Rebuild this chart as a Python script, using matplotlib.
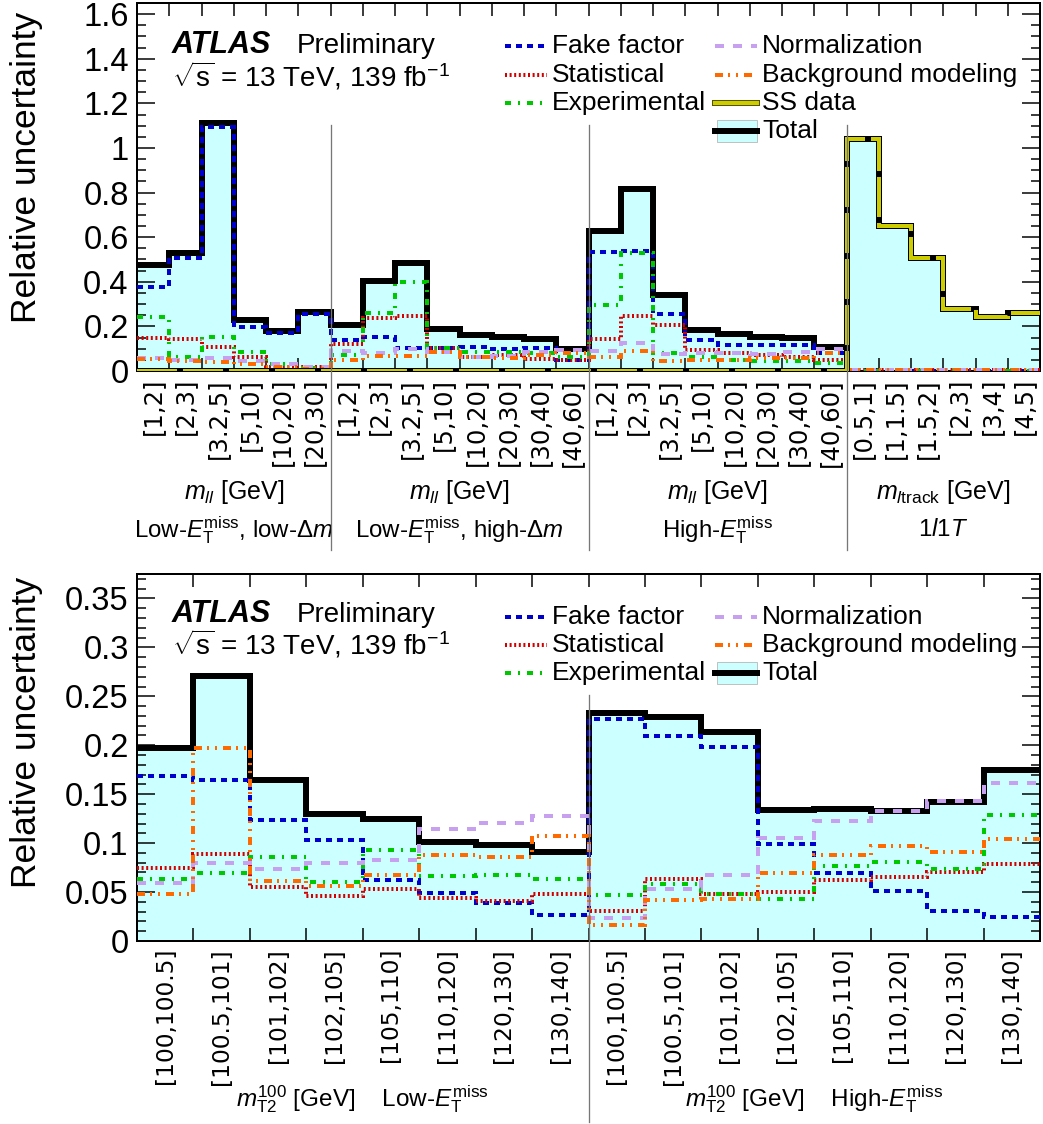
import numpy as np
import matplotlib
matplotlib.use("Agg")
import matplotlib.pyplot as plt
from matplotlib.lines import Line2D
from matplotlib.patches import Rectangle
from matplotlib.ticker import MultipleLocator, FixedLocator, FuncFormatter
import matplotlib.transforms as mtransforms
import matplotlib.patheffects as pe

plt.rcParams['font.family'] = ['Liberation Sans', 'DejaVu Sans']
plt.rcParams['mathtext.fontset'] = 'custom'
plt.rcParams['mathtext.rm'] = 'Liberation Sans'
plt.rcParams['mathtext.it'] = 'Liberation Sans:italic'
plt.rcParams['mathtext.bf'] = 'Liberation Sans:bold'

# ---------------- data: upper panel (2l + 1l1T signal regions) ----------------
top_labels = ["[1,2]", "[2,3]", "[3.2,5]", "[5,10]", "[10,20]", "[20,30]",
              "[1,2]", "[2,3]", "[3.2,5]", "[5,10]", "[10,20]", "[20,30]", "[30,40]", "[40,60]",
              "[1,2]", "[2,3]", "[3.2,5]", "[5,10]", "[10,20]", "[20,30]", "[30,40]", "[40,60]",
              "[0.5,1]", "[1,1.5]", "[1.5,2]", "[2,3]", "[3,4]", "[4,5]"]
top_region_sizes = [6, 8, 8, 6]
top_var_labels = [r"$m_{ll}$ [GeV]", r"$m_{ll}$ [GeV]", r"$m_{ll}$ [GeV]", r"$m_{l\mathrm{track}}$ [GeV]"]
top_region_names = [r"Low-$E_\mathrm{T}^\mathrm{miss}$, low-$\Delta m$",
                    r"Low-$E_\mathrm{T}^\mathrm{miss}$, high-$\Delta m$",
                    r"High-$E_\mathrm{T}^\mathrm{miss}$",
                    r"1$l$1$T$"]

top_fake = [0.375, 0.505, 1.095, 0.199, 0.172, 0.255,
            0.139, 0.151, 0.102, 0.102, 0.109, 0.099, 0.105, 0.049,
            0.535, 0.539, 0.255, 0.139, 0.115, 0.115, 0.116, 0.082,
            0.003, 0.002, 0.002, 0.002, 0.002, 0.002]
top_stat = [0.149, 0.142, 0.109, 0.064, 0.020, 0.020,
            0.119, 0.236, 0.248, 0.103, 0.064, 0.070, 0.052, 0.049,
            0.142, 0.248, 0.206, 0.094, 0.082, 0.072, 0.064, 0.049,
            0.004, 0.003, 0.003, 0.003, 0.003, 0.003]
top_exp = [0.240, 0.065, 0.151, 0.087, 0.030, 0.015,
           0.072, 0.262, 0.397, 0.102, 0.084, 0.083, 0.080, 0.064,
           0.297, 0.530, 0.079, 0.064, 0.049, 0.047, 0.046, 0.037,
           0.002, 0.002, 0.002, 0.002, 0.002, 0.002]
top_norm = [0.057, 0.050, 0.060, 0.047, 0.030, 0.020,
            0.090, 0.080, 0.100, 0.087, 0.064, 0.067, 0.083, 0.094,
            0.091, 0.127, 0.076, 0.079, 0.079, 0.077, 0.085, 0.100,
            0.004, 0.004, 0.004, 0.004, 0.004, 0.004]
top_bkg = [0.053, 0.045, 0.040, 0.030, 0.020, 0.010,
           0.051, 0.069, 0.067, 0.085, 0.061, 0.060, 0.070, 0.082,
           0.064, 0.091, 0.046, 0.051, 0.049, 0.060, 0.060, 0.079,
           0.005, 0.005, 0.005, 0.005, 0.005, 0.005]
top_ss = [0.0, 0.0, 0.0, 0.0, 0.0, 0.0,
          0.0, 0.0, 0.0, 0.0, 0.0, 0.0, 0.0, 0.0,
          0.0, 0.0, 0.0, 0.0, 0.0, 0.0, 0.0, 0.0,
          1.040, 0.650, 0.505, 0.277, 0.243, 0.259]
top_total = [0.475, 0.527, 1.113, 0.229, 0.181, 0.264,
             0.206, 0.405, 0.483, 0.187, 0.160, 0.154, 0.145, 0.099,
             0.628, 0.816, 0.341, 0.184, 0.166, 0.154, 0.147, 0.109,
             1.040, 0.650, 0.505, 0.277, 0.243, 0.259]

# ---------------- data: lower panel (mT2 regions) ----------------
bot_labels = ["[100,100.5]", "[100.5,101]", "[101,102]", "[102,105]",
              "[105,110]", "[110,120]", "[120,130]", "[130,140]",
              "[100,100.5]", "[100.5,101]", "[101,102]", "[102,105]",
              "[105,110]", "[110,120]", "[120,130]", "[130,140]"]
bot_region_sizes = [8, 8]
bot_region_names = [r"$m_\mathrm{T2}^{100}$ [GeV]    Low-$E_\mathrm{T}^\mathrm{miss}$",
                    r"$m_\mathrm{T2}^{100}$ [GeV]    High-$E_\mathrm{T}^\mathrm{miss}$"]

bot_total = [0.197, 0.271, 0.164, 0.130, 0.125, 0.101, 0.098, 0.091,
             0.233, 0.229, 0.214, 0.134, 0.135, 0.133, 0.142, 0.175]
bot_fake = [0.169, 0.165, 0.124, 0.103, 0.062, 0.049, 0.039, 0.027,
            0.227, 0.209, 0.198, 0.099, 0.069, 0.051, 0.031, 0.025]
bot_stat = [0.075, 0.089, 0.055, 0.046, 0.053, 0.044, 0.041, 0.048,
            0.031, 0.063, 0.048, 0.050, 0.062, 0.065, 0.071, 0.079]
bot_exp = [0.063, 0.069, 0.086, 0.060, 0.093, 0.066, 0.067, 0.063,
           0.047, 0.058, 0.048, 0.043, 0.077, 0.081, 0.074, 0.129]
bot_norm = [0.059, 0.080, 0.074, 0.080, 0.083, 0.114, 0.121, 0.128,
            0.023, 0.053, 0.067, 0.105, 0.123, 0.133, 0.143, 0.161]
bot_bkg = [0.048, 0.197, 0.061, 0.056, 0.067, 0.088, 0.086, 0.107,
           0.016, 0.042, 0.043, 0.069, 0.088, 0.097, 0.091, 0.104]

# ---------------- style ----------------
W, H, DPI = 1043, 1124, 100
PX = 72.0 / DPI  # points per pixel

C_FAKE = "#0000cc"
C_STAT = "#d40000"
C_EXP = "#00c800"
C_NORM = "#c8a0f0"
C_BKG = "#ff6a00"
C_SS = "#cccc00"
C_FILL = "#ccffff"


def dash(lw_px, pattern_px):
    """Dash pattern given in pixels, converted to linewidth units."""
    return (0, tuple(p / lw_px for p in pattern_px))


STYLES = {
    "fake": dict(color=C_FAKE, lw=4 * PX, ls=dash(4, (6, 5))),
    "stat": dict(color=C_STAT, lw=4 * PX, ls=dash(4, (2, 2.6))),
    "exp": dict(color=C_EXP, lw=4 * PX, ls=dash(4, (6, 7, 2, 7))),
    "norm": dict(color=C_NORM, lw=4 * PX, ls=dash(4, (9, 9))),
    "bkg": dict(color=C_BKG, lw=4 * PX, ls=dash(4, (8, 5, 2, 6, 2, 6))),
}
TOTAL_LW = 6 * PX

fig = plt.figure(figsize=(W / DPI, H / DPI), dpi=DPI)


def fx(px):
    return px / W


def fy(py):
    return 1 - py / H


def make_axes(top_px, bottom_px):
    return fig.add_axes([fx(137), fy(bottom_px), fx(1040) - fx(137), (bottom_px - top_px) / H])


def style_axes(ax, n, ymax, major, minor, labels, label_size):
    edges = np.arange(n + 1)
    ax.set_xlim(0, n)
    ax.set_ylim(0, ymax)
    ax.xaxis.set_major_locator(FixedLocator(edges[:-1] + 0.5))
    ax.xaxis.set_minor_locator(FixedLocator(edges))
    ax.set_xticklabels(labels, rotation=90, fontsize=label_size, family="DejaVu Sans")
    ax.tick_params(axis="x", which="major", length=0, pad=5)
    ax.tick_params(axis="x", which="minor", direction="in", length=13 * PX, width=1.5 * PX,
                   top=True, bottom=True)
    ax.yaxis.set_major_locator(MultipleLocator(major))
    ax.yaxis.set_minor_locator(MultipleLocator(minor))
    ax.yaxis.set_major_formatter(FuncFormatter(lambda v, p: "%g" % round(v, 4)))
    ax.tick_params(axis="y", which="major", direction="in", length=18 * PX, width=1.5 * PX,
                   labelsize=23.5, left=True, right=True, pad=6)
    ax.tick_params(axis="y", which="minor", direction="in", length=9 * PX, width=1.5 * PX,
                   left=True, right=True)
    for s in ax.spines.values():
        s.set_linewidth(2 * PX)
        s.set_zorder(2.5)


def draw_hists(ax, total, comps, ss=None):
    n = len(total)
    edges = np.arange(n + 1)
    ax.stairs(total, edges, fill=True, color=C_FILL, zorder=1)
    ax.stairs(total, edges, baseline=None, color="black", lw=TOTAL_LW, zorder=2)
    for key, vals in comps:
        st = STYLES[key]
        ax.stairs(vals, edges, baseline=None, color=st["color"], lw=st["lw"],
                  linestyle=st["ls"], zorder=3)
    if ss is not None:
        ax.stairs(ss, edges, baseline=None, color="black", lw=6 * PX, zorder=4)
        ax.stairs(ss, edges, baseline=None, color=C_SS, lw=4 * PX,
                  linestyle=dash(4, (40, 6)), zorder=5)


def separators(ax, positions, y0_px, y1_px):
    tr = mtransforms.blended_transform_factory(ax.transData, fig.transFigure)
    for x in positions:
        ax.add_line(Line2D([x, x], [fy(y0_px), fy(y1_px)], transform=tr, color="#777777",
                           lw=1.3 * PX, clip_on=False, zorder=11))


def region_text(ax, sizes, texts, y_px, fontsize):
    tr = mtransforms.blended_transform_factory(ax.transData, fig.transFigure)
    start = 0
    for size, t in zip(sizes, texts):
        ax.text(start + size / 2, fy(y_px), t, transform=tr, ha="center", va="center",
                fontsize=fontsize)
        start += size


def atlas_label(x_px, y1_px, y2_px):
    fig.text(fx(x_px), fy(y1_px), "ATLAS", fontsize=22, weight="bold", style="italic",
             va="baseline", ha="left")
    fig.text(fx(x_px + 125), fy(y1_px), "Preliminary", fontsize=20, va="baseline", ha="left")
    fig.text(fx(x_px), fy(y2_px), r"$\sqrt{\mathrm{s}}$ = 13 TeV, 139 fb$^{-1}$", fontsize=20,
             va="baseline", ha="left")


def legend_entry(x_px, y_px, kind, label):
    xs = [fx(x_px), fx(x_px + 42)]
    ys = [fy(y_px), fy(y_px)]
    if kind == "total":
        fig.add_artist(Rectangle((fx(x_px + 2), fy(y_px + 11)), fx(40), 22 / H,
                                 transform=fig.transFigure, facecolor=C_FILL,
                                 edgecolor="#aaaaaa", lw=0.5))
        fig.add_artist(Line2D(xs, ys, transform=fig.transFigure, color="black", lw=TOTAL_LW))
    elif kind == "ss":
        fig.add_artist(Line2D(xs, ys, transform=fig.transFigure, color=C_SS, lw=4 * PX,
                              path_effects=[pe.Stroke(linewidth=6 * PX, foreground="#555500"),
                                            pe.Normal()]))
    else:
        st = STYLES[kind]
        fig.add_artist(Line2D(xs, ys, transform=fig.transFigure, color=st["color"],
                              lw=st["lw"], linestyle=st["ls"]))
    fig.text(fx(x_px + 47), fy(y_px), label, fontsize=19, va="center", ha="left")


# ---------------- upper panel ----------------
ax1 = make_axes(3, 371)
n1 = len(top_total)
draw_hists(ax1, top_total,
           [("fake", top_fake), ("stat", top_stat), ("exp", top_exp),
            ("norm", top_norm), ("bkg", top_bkg)], ss=top_ss)
style_axes(ax1, n1, 1.65, 0.2, 0.05, top_labels, 17.5)
bounds1 = np.cumsum(top_region_sizes)[:-1]
separators(ax1, bounds1, 125, 550)
region_text(ax1, top_region_sizes, top_var_labels, 492, 18)
region_text(ax1, top_region_sizes, top_region_names, 530, 17.3)
atlas_label(172, 53, 86)

legend_entry(505, 46, "fake", "Fake factor")
legend_entry(505, 75, "stat", "Statistical")
legend_entry(505, 103, "exp", "Experimental")
legend_entry(715, 46, "norm", "Normalization")
legend_entry(715, 75, "bkg", "Background modeling")
legend_entry(715, 103, "ss", "SS data")
legend_entry(715, 131, "total", "Total")

# ---------------- lower panel ----------------
ax2 = make_axes(574, 941)
n2 = len(bot_total)
draw_hists(ax2, bot_total,
           [("fake", bot_fake), ("stat", bot_stat), ("exp", bot_exp),
            ("norm", bot_norm), ("bkg", bot_bkg)])
style_axes(ax2, n2, 0.375, 0.05, 0.01, bot_labels, 16.8)
bounds2 = np.cumsum(bot_region_sizes)[:-1]
separators(ax2, bounds2, 695, 1122)
region_text(ax2, bot_region_sizes, bot_region_names, 1099, 17.5)
atlas_label(172, 622, 655)

legend_entry(505, 617, "fake", "Fake factor")
legend_entry(505, 645, "stat", "Statistical")
legend_entry(505, 673, "exp", "Experimental")
legend_entry(715, 617, "norm", "Normalization")
legend_entry(715, 645, "bkg", "Background modeling")
legend_entry(715, 673, "total", "Total")

# y-axis titles, aligned to the top of each axis
for top_px in (12, 577):
    fig.text(fx(27), fy(top_px), "Relative uncertainty", rotation=90, fontsize=25.5,
             ha="center", va="top")

fig.savefig("out.png", dpi=DPI)
